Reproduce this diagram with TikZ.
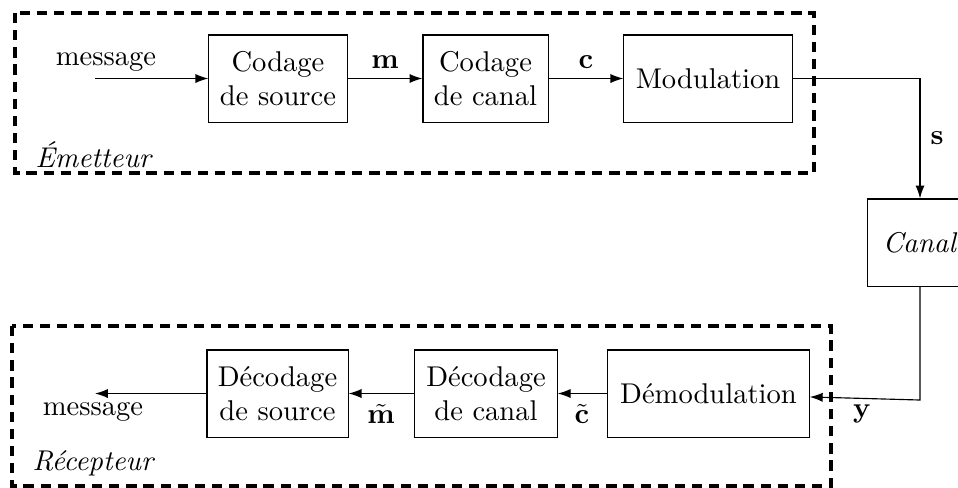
\documentclass[tikz,border=0pt]{standalone}
\usetikzlibrary{arrows.meta}
\begin{document}
\begin{tikzpicture}[x=0.35pt,y=-0.35pt,
  blk/.style={draw,line width=0.4pt,align=center,inner sep=0pt},
  frame/.style={draw,line width=1.1pt,dash pattern=on 3.6pt off 2.4pt},
  conn/.style={line width=0.4pt,-{Latex[length=4.5pt,width=3.2pt]}},
  lbl/.style={inner sep=0pt}]
\useasboundingbox (0,0) rectangle (958,487);
% frames
\draw[frame] (15,13) rectangle (814,173);
\draw[frame] (12,326) rectangle (831,486);
\node[lbl,anchor=west] (emet) at (35,155) {\textit{Émetteur}};
\node[lbl,anchor=west] (recep) at (32,463) {\textit{Récepteur}};
% top row
\node[blk,minimum width=48.4pt,minimum height=30.5pt] (src) at (278,78.5) {Codage\\de source};
\node[blk,minimum width=43.8pt,minimum height=30.5pt] (cc) at (485.5,78.5) {Codage\\de canal};
\node[blk,minimum width=58.9pt,minimum height=30.5pt] (mod) at (708,78.5) {Modulation};
\node[blk,minimum width=36.5pt,minimum height=30.5pt] (canal) at (920,242.5) {\textit{Canal}};
% bottom row
\node[blk,minimum width=49.4pt,minimum height=30.5pt] (dsrc) at (277.5,393.5) {Décodage\\de source};
\node[blk,minimum width=49.8pt,minimum height=30.5pt] (dcc) at (486,393.5) {Décodage\\de canal};
\node[blk,minimum width=70.5pt,minimum height=30.5pt] (demod) at (708.5,393.5) {Démodulation};
% messages
\node[lbl] (min) at (106,62) {message};
\coordinate (minstart) at (95,78.5);
\node[lbl] (mout) at (93,412) {message};
\coordinate (moutend) at (95,393.5);
% connectors
\draw[conn] (minstart) -- (src.west);
\draw[conn] (src.east) -- (cc.west);
\node[lbl] (lm) at (385,62) {$\mathbf{m}$};
\draw[conn] (cc.east) -- (mod.west);
\node[lbl] (lc) at (586,62) {$\mathbf{c}$};
\draw[conn] (mod.east) -| (canal.north);
\node[lbl] (ls) at (937,138) {$\mathbf{s}$};
\coordinate (ycorner) at (920,400);
\draw[conn] (canal.south) -- (ycorner) -- ([yshift=-1.2pt]demod.east);
\node[lbl] (ly) at (862,414) {$\mathbf{y}$};
\draw[conn] (demod.west) -- (dcc.east);
\node[lbl] (lct) at (582,414) {$\tilde{\mathbf{c}}$};
\draw[conn] (dcc.west) -- (dsrc.east);
\node[lbl] (lmt) at (381,414) {$\tilde{\mathbf{m}}$};
\draw[conn] (dsrc.west) -- (moutend);
\end{tikzpicture}
\end{document}
